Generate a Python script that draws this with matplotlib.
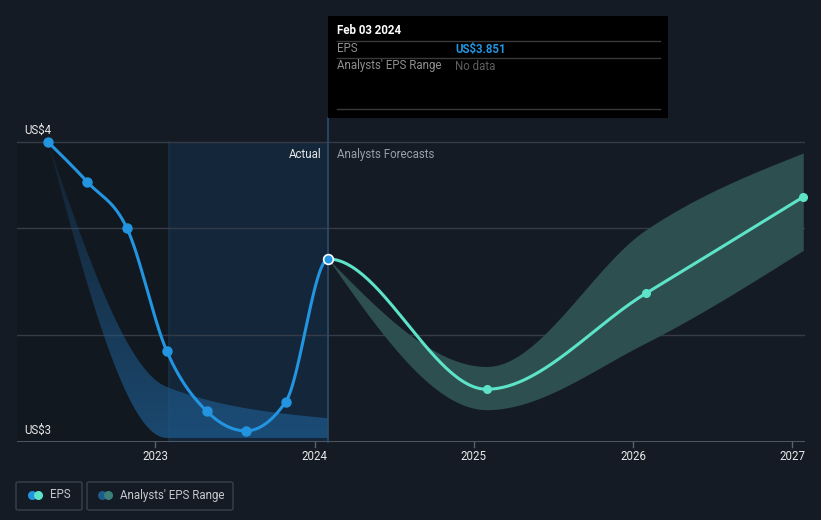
import numpy as np
import matplotlib
matplotlib.use("Agg")
import matplotlib.pyplot as plt
from matplotlib.patches import Rectangle, FancyBboxPatch, Polygon
from matplotlib.lines import Line2D
from matplotlib.colors import LinearSegmentedColormap

plt.rcParams['font.family'] = ['Roboto', 'DejaVu Sans']

# ---------------- data ----------------
actual_dates = [2022.325, 2022.572, 2022.821, 2023.070, 2023.322, 2023.568, 2023.818, 2024.085]
actual_eps = [4.000, 3.949, 3.890, 3.734, 3.657, 3.632, 3.669, 3.851]
forecast_dates = [2024.085, 2025.080, 2026.079, 2027.069]
forecast_eps = [3.851, 3.685, 3.807, 3.930]
forecast_low = [3.851, 3.659, 3.744, 3.862]
forecast_high = [3.851, 3.714, 3.888, 3.986]
past_range_dates = [2022.325, 2023.070, 2024.085]
past_low = [4.000, 3.623, 3.623]
past_high = [4.000, 3.688, 3.648]
year_ticks = [2023, 2024, 2025, 2026, 2027]
grid_values = [4.000, 3.8904, 3.7541]
y_labels = ["US$4", "US$3"]
tooltip_date = "Feb 03 2024"
tooltip_eps = "US$3.851"

# ---------------- helpers ----------------
def monotone(x, y, n=60):
    x = np.asarray(x, float); y = np.asarray(y, float)
    h = np.diff(x); d = np.diff(y) / h
    m = len(x)
    t = np.zeros(m)
    for i in range(1, m - 1):
        s0, s1 = d[i - 1], d[i]
        p = (s0 * h[i] + s1 * h[i - 1]) / (h[i - 1] + h[i])
        t[i] = (np.sign(s0) + np.sign(s1)) * min(abs(s0), abs(s1), 0.5 * abs(p))
    t[0] = (3 * d[0] - t[1]) / 2 if m > 2 else d[0]
    t[-1] = (3 * d[-1] - t[-2]) / 2 if m > 2 else d[-1]
    xs, ys = [], []
    for i in range(m - 1):
        u = np.linspace(0, 1, n)
        h00 = 2 * u**3 - 3 * u**2 + 1
        h10 = u**3 - 2 * u**2 + u
        h01 = -2 * u**3 + 3 * u**2
        h11 = u**3 - u**2
        xs.append(x[i] + u * h[i])
        ys.append(h00 * y[i] + h10 * h[i] * t[i] + h01 * y[i + 1] + h11 * h[i] * t[i + 1])
    return np.concatenate(xs), np.concatenate(ys)

W, H = 821, 520
def fx(px): return px / W
def fy(py): return 1 - py / H

FS = 8.3
BG = '#151b25'
fig = plt.figure(figsize=(8.21, 5.2), dpi=100, facecolor=BG)
ax = fig.add_axes([fx(17), fy(442), fx(805) - fx(17), fy(100) - fy(442)])
ax.set_facecolor('none')
ax.set_xlim(2022.130, 2027.080)
ax.set_ylim(3.6178, 4.0535)
for s in ax.spines.values():
    s.set_visible(False)
ax.set_xticks([]); ax.set_yticks([])

last = actual_dates[-1]
ytop = grid_values[0]
ybot = 3.6178

# background regions
ax.add_patch(Rectangle((2022.130, ybot), (last - 1) - 2022.130, ytop - ybot,
                       facecolor='#121820', edgecolor='none', zorder=0))
ax.add_patch(Rectangle((last - 1, ybot), 1, ytop - ybot,
                       facecolor='#13263a', edgecolor='none', zorder=0))
ax.plot([last - 1, last - 1], [ybot, ytop], color='#182f46', lw=1.2, zorder=0.5)

# grid lines
for g in grid_values:
    ax.axhline(g, color='#353c47', lw=1, zorder=1)
ax.axhline(ybot, color='#5b626d', lw=1.2, zorder=1)
for yr in year_ticks:
    ax.plot([yr, yr], [ybot, ybot - 0.006], color='#5b626d', lw=1, clip_on=False, zorder=1)
    ax.text(yr, ybot - 0.0185, str(yr), color='#e8e8e8', fontsize=FS,
            ha='center', va='center', clip_on=False)

# past range band with vertical gradient
bx, blo = monotone(past_range_dates, past_low)
_, bhi = monotone(past_range_dates, past_high)
poly = Polygon(np.column_stack([np.concatenate([bx, bx[::-1]]),
                                np.concatenate([bhi, blo[::-1]])]),
               closed=True, facecolor='none', edgecolor='none')
ax.add_patch(poly)
cmap = LinearSegmentedColormap.from_list('g', [(0.12, 0.36, 0.56, 0.72), (0.12, 0.36, 0.56, 0.15)])
grad = np.linspace(0, 1, 256).reshape(-1, 1)
im = ax.imshow(grad, cmap=cmap, aspect='auto', origin='lower',
               extent=[past_range_dates[0], past_range_dates[-1], min(past_low), max(past_high)],
               zorder=2)
im.set_clip_path(poly)

# forecast band
fx_, flo = monotone(forecast_dates, forecast_low)
_, fhi = monotone(forecast_dates, forecast_high)
ax.fill_between(fx_, flo, fhi, color='#2d4f50', lw=0, zorder=2)

# vertical marker line
ax.plot([last, last], [ybot, 4 + 24 / 785], color='#2b4d6c', lw=1.2, zorder=2, clip_on=False)

# EPS lines (combined spline, split at last actual)
all_x = actual_dates + forecast_dates[1:]
all_y = actual_eps + forecast_eps[1:]
cx, cy = monotone(all_x, all_y)
ma = cx <= last + 1e-9
ax.plot(cx[ma], cy[ma], color='#2394df', lw=2.2, zorder=4, solid_capstyle='round')
ax.plot(cx[~ma], cy[~ma], color='#5de3c8', lw=2.2, zorder=4, solid_capstyle='round')
ax.plot([last, cx[~ma][0]], [actual_eps[-1], cy[~ma][0]], color='#5de3c8', lw=2.2, zorder=4)
ax.plot(actual_dates[:-1], actual_eps[:-1], 'o', color='#2394df', ms=6.5, zorder=5)
ax.plot(forecast_dates[1:], forecast_eps[1:], 'o', color='#5de3c8', ms=5.5, zorder=5, clip_on=False)
ax.plot([actual_dates[-1]], [actual_eps[-1]], 'o', color='#2394df', ms=7,
        markeredgecolor='white', markeredgewidth=1.2, zorder=6)

# text labels
fig.text(fx(24), fy(130), y_labels[0], color='#e8e8e8', fontsize=FS, va='center', ha='left')
fig.text(fx(24), fy(430), y_labels[1], color='#e8e8e8', fontsize=FS, va='center', ha='left')
fig.text(fx(321), fy(154), "Actual", color='#e6e6e6', fontsize=FS, va='center', ha='right')
fig.text(fx(337), fy(154), "Analysts Forecasts", color='#9aa0a8', fontsize=FS, va='center', ha='left')

# tooltip
fig.patches.append(Rectangle((fx(328), fy(118)), fx(668) - fx(328), fy(16) - fy(118),
                             transform=fig.transFigure, facecolor='black', edgecolor='none', zorder=10))
for py in (41, 58, 109):
    fig.lines.append(Line2D([fx(337), fx(660)], [fy(py), fy(py)], transform=fig.transFigure,
                            color='#3a3a3a', lw=1, zorder=11))
fig.text(fx(337), fy(31), tooltip_date, color='white', fontsize=FS, fontweight='bold',
         va='center', ha='left', zorder=12)
fig.text(fx(337), fy(49), "EPS", color='#8f8f8f', fontsize=FS, va='center', ha='left', zorder=12)
fig.text(fx(455), fy(49), tooltip_eps, color='#2394df', fontsize=FS, fontweight='bold',
         va='center', ha='left', zorder=12)
fig.text(fx(337), fy(66), "Analysts' EPS Range", color='#8f8f8f', fontsize=FS, va='center',
         ha='left', zorder=12)
fig.text(fx(455), fy(66), "No data", color='#5e5e5e', fontsize=FS, va='center', ha='left', zorder=12)

# legend
for (x0, x1) in ((16, 82), (87, 233)):
    fig.patches.append(FancyBboxPatch((fx(x0), fy(510)), fx(x1) - fx(x0), fy(482) - fy(510),
                                      boxstyle='round,pad=0,rounding_size=0.003',
                                      transform=fig.transFigure, facecolor='none',
                                      edgecolor='#3b414b', lw=1))
for (px, col) in ((32, '#2394df'), (37.5, '#5de3c8'), (102, '#1e5a8a'), (107.5, '#3a8079')):
    fig.lines.append(Line2D([fx(px)], [fy(494.5)], transform=fig.transFigure, marker='o',
                            ms=6.5, color=col, markeredgewidth=0))
fig.text(fx(50), fy(495), "EPS", color='#c4c7cc', fontsize=FS, va='center', ha='left')
fig.text(fx(120), fy(495), "Analysts' EPS Range", color='#c4c7cc', fontsize=FS, va='center', ha='left')

fig.savefig('out.png', dpi=100, facecolor=BG)
